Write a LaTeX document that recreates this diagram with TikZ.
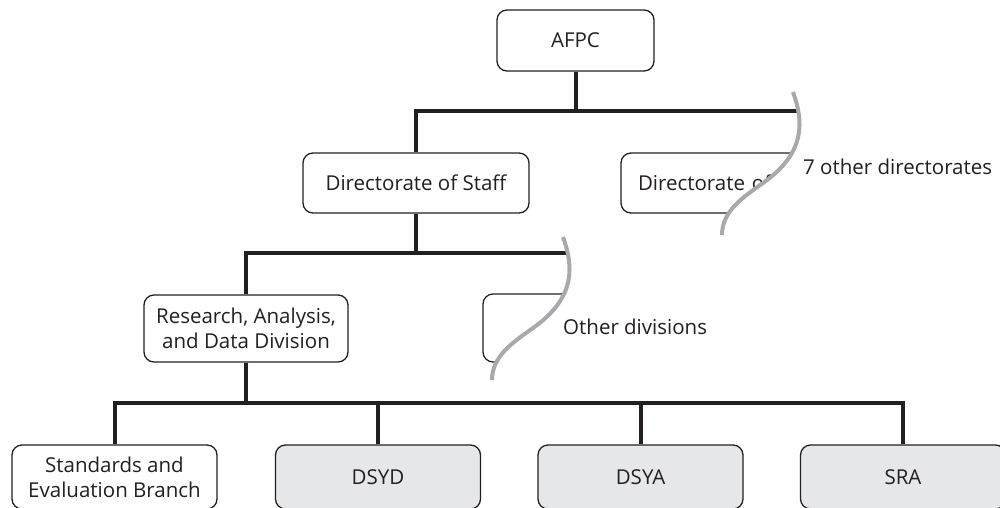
\documentclass[tikz,border=0pt]{standalone}
\usepackage{fontspec}
\setmainfont{Open Sans}
\definecolor{ink}{HTML}{231F20}
\definecolor{wavegray}{HTML}{A7A9AC}
\definecolor{boxgray}{HTML}{E6E7E8}
\begin{document}
\begin{tikzpicture}[x=1pt,y=-1pt,
  box/.style={draw=ink, line width=1.3pt, rounded corners=10pt, text=ink,
    font=\fontsize{20.5}{25}\selectfont, align=center, inner sep=0pt},
  graybox/.style={box, fill=boxgray},
  link/.style={draw=ink, line width=4pt},
  wave/.style={draw=wavegray, line width=4pt},
  lbl/.style={text=ink, font=\fontsize{20.5}{25}\selectfont, inner sep=0pt}]
\useasboundingbox (0,0) rectangle (1000,508);

% nodes
\node[box, minimum width=157pt, minimum height=61pt] (afpc) at (575.5,40.5) {AFPC};
\node[box, minimum width=226pt, minimum height=60pt] (staff) at (416,183) {Directorate of Staff};
\node[box, minimum width=226pt, minimum height=60pt, text width=192pt, align=left] (dirof) at (734,183) {Directorate of};
\node[box, minimum width=204pt, minimum height=67pt] (rad) at (246,328.5) {Research, Analysis,\\and Data Division};
\node[box, minimum width=204pt, minimum height=68pt] (odiv) at (585,328) {};
\node[box, minimum width=205pt, minimum height=64pt] (seb) at (114.5,477) {Standards and\\Evaluation Branch};
\node[graybox, minimum width=205pt, minimum height=64pt] (dsyd) at (378,477) {DSYD};
\node[graybox, minimum width=205pt, minimum height=64pt] (dsya) at (640.5,477) {DSYA};
\node[graybox, minimum width=205pt, minimum height=64pt] (sra) at (903,477) {SRA};

% connectors
\coordinate (h1r) at (800,111);
\coordinate (h2r) at (570,253);
\coordinate (h3) at (0,403);
\draw[link] (afpc.south) -- (afpc.south |- h1r);
\draw[link] (staff.north) |- (h1r);
\draw[link] (staff.south) -- (staff.south |- h2r);
\draw[link] (rad.north) |- (h2r);
\draw[link] (rad.south) -- (rad.south |- h3);
\draw[link] (seb.north) |- (sra.north |- h3) -- (sra.north);
\draw[link] (dsyd.north) -- (dsyd.north |- h3);
\draw[link] (dsya.north) -- (dsya.north |- h3);

% break marks
\foreach \sx/\sy in {793/92, 563/237} {
  \begin{scope}[shift={(\sx,\sy)}]
    \fill[white] (0,0) .. controls (10,28) and (14,60) .. (-30,91)
      .. controls (-52,106.5) and (-71,120) .. (-71,143)
      -- (200,143) -- (200,0) -- cycle;
    \draw[wave] (0,0) .. controls (10,28) and (14,60) .. (-30,91)
      .. controls (-52,106.5) and (-71,120) .. (-71,143);
  \end{scope}
}

\node[lbl, anchor=base west] (otherdir) at (803,174) {7 other directorates};
\node[lbl, anchor=base west] (otherdiv) at (563,334) {Other divisions};
\end{tikzpicture}
\end{document}
